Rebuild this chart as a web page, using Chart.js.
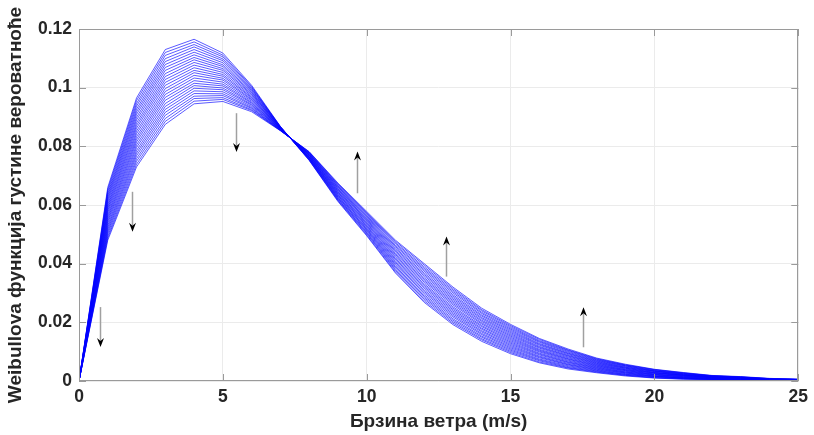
<!DOCTYPE html>
<html>
<head>
<meta charset="utf-8">
<script src="https://cdn.jsdelivr.net/npm/chart.js@4.4.1/dist/chart.umd.min.js"></script>
<style>
html,body{margin:0;padding:0;background:#fff;}
#wrap{width:814px;height:435px;position:relative;}
</style>
</head>
<body>
<div id="wrap"><canvas id="c" width="814" height="435"></canvas></div>
<script>
// wind speed (m/s) sample points
const windSpeed = [0,1,2,3,4,5,6,7,8,9,10,11,12,13,14,15,16,17,18,19,20,21,22,23,24,25];

// Weibull PDF family (most peaked first, flattest last)
const pdf01 = [0,0.066,0.0965,0.113,0.1165,0.1118,0.1008,0.0868,0.0752,0.0612,0.0495,0.0368,0.0268,0.0192,0.0135,0.0093,0.0062,0.0041,0.0028,0.0017,0.001,0.0006,0.0004,0.0002,0.0001,0.0001];
const pdf02 = [0,0.0653,0.0956,0.112,0.1156,0.1111,0.1004,0.0867,0.0753,0.0615,0.0498,0.0372,0.0273,0.0197,0.014,0.0097,0.0065,0.0044,0.003,0.0019,0.0011,0.0007,0.0005,0.0003,0.0001,0.0001];
const pdf03 = [0,0.0646,0.0946,0.111,0.1147,0.1105,0.1001,0.0867,0.0754,0.0617,0.0502,0.0377,0.0279,0.0202,0.0144,0.0101,0.0069,0.0046,0.0032,0.002,0.0012,0.0008,0.0005,0.0003,0.0002,0.0001];
const pdf04 = [0,0.0638,0.0937,0.1099,0.1139,0.1098,0.0997,0.0866,0.0756,0.062,0.0505,0.0381,0.0284,0.0207,0.0149,0.0105,0.0072,0.0049,0.0034,0.0022,0.0014,0.0009,0.0006,0.0004,0.0002,0.0002];
const pdf05 = [0,0.0631,0.0927,0.1089,0.113,0.1092,0.0994,0.0866,0.0757,0.0622,0.0508,0.0386,0.0289,0.0212,0.0153,0.0109,0.0075,0.0052,0.0036,0.0023,0.0015,0.001,0.0006,0.0004,0.0002,0.0002];
const pdf06 = [0,0.0624,0.0918,0.1079,0.1121,0.1085,0.099,0.0865,0.0758,0.0625,0.0512,0.039,0.0294,0.0218,0.0158,0.0113,0.0079,0.0055,0.0038,0.0025,0.0016,0.001,0.0007,0.0005,0.0003,0.0002];
const pdf07 = [0,0.0617,0.0909,0.1069,0.1112,0.1078,0.0986,0.0864,0.0759,0.0627,0.0515,0.0395,0.03,0.0223,0.0162,0.0117,0.0082,0.0057,0.004,0.0027,0.0017,0.0011,0.0008,0.0005,0.0003,0.0002];
const pdf08 = [0,0.061,0.0899,0.1059,0.1103,0.1072,0.0983,0.0864,0.076,0.063,0.0518,0.0399,0.0305,0.0228,0.0167,0.0121,0.0085,0.006,0.0042,0.0028,0.0018,0.0012,0.0008,0.0006,0.0003,0.0002];
const pdf09 = [0,0.0602,0.089,0.1048,0.1095,0.1065,0.0979,0.0863,0.0762,0.0632,0.0521,0.0404,0.031,0.0233,0.0171,0.0125,0.0089,0.0063,0.0044,0.003,0.002,0.0013,0.0009,0.0006,0.0003,0.0003];
const pdf10 = [0,0.0595,0.088,0.1038,0.1086,0.1059,0.0976,0.0863,0.0763,0.0635,0.0525,0.0408,0.0316,0.0238,0.0176,0.0129,0.0092,0.0065,0.0046,0.0031,0.0021,0.0014,0.0009,0.0007,0.0004,0.0003];
const pdf11 = [0,0.0588,0.0871,0.1028,0.1077,0.1052,0.0972,0.0862,0.0764,0.0637,0.0528,0.0413,0.0321,0.0243,0.018,0.0133,0.0095,0.0068,0.0048,0.0033,0.0022,0.0015,0.001,0.0007,0.0004,0.0003];
const pdf12 = [0,0.0581,0.0862,0.1018,0.1068,0.1045,0.0968,0.0861,0.0765,0.064,0.0531,0.0417,0.0326,0.0248,0.0185,0.0137,0.0099,0.0071,0.005,0.0035,0.0023,0.0016,0.0011,0.0008,0.0004,0.0003];
const pdf13 = [0,0.0574,0.0852,0.1008,0.1059,0.1039,0.0965,0.0861,0.0766,0.0642,0.0535,0.0422,0.0331,0.0253,0.0189,0.0141,0.0102,0.0074,0.0052,0.0036,0.0024,0.0017,0.0011,0.0008,0.0005,0.0003];
const pdf14 = [0,0.0566,0.0843,0.0997,0.1051,0.1032,0.0961,0.086,0.0768,0.0645,0.0538,0.0426,0.0337,0.0259,0.0194,0.0145,0.0105,0.0076,0.0054,0.0038,0.0026,0.0018,0.0012,0.0009,0.0005,0.0004];
const pdf15 = [0,0.0559,0.0833,0.0987,0.1042,0.1026,0.0958,0.086,0.0769,0.0647,0.0541,0.0431,0.0342,0.0264,0.0198,0.0149,0.0108,0.0079,0.0056,0.0039,0.0027,0.0019,0.0012,0.0009,0.0005,0.0004];
const pdf16 = [0,0.0552,0.0824,0.0977,0.1033,0.1019,0.0954,0.0859,0.077,0.065,0.0545,0.0435,0.0347,0.0269,0.0203,0.0153,0.0112,0.0082,0.0058,0.0041,0.0028,0.002,0.0013,0.001,0.0006,0.0004];
const pdf17 = [0,0.0545,0.0815,0.0967,0.1024,0.1012,0.095,0.0858,0.0771,0.0652,0.0548,0.044,0.0352,0.0274,0.0207,0.0157,0.0115,0.0085,0.006,0.0043,0.0029,0.002,0.0014,0.001,0.0006,0.0004];
const pdf18 = [0,0.0538,0.0805,0.0957,0.1015,0.1006,0.0947,0.0858,0.0772,0.0655,0.0551,0.0444,0.0358,0.0279,0.0212,0.0161,0.0118,0.0087,0.0062,0.0044,0.003,0.0021,0.0014,0.0011,0.0006,0.0004];
const pdf19 = [0,0.053,0.0796,0.0946,0.1007,0.0999,0.0943,0.0857,0.0774,0.0657,0.0554,0.0449,0.0363,0.0284,0.0216,0.0165,0.0122,0.009,0.0064,0.0046,0.0032,0.0022,0.0015,0.0011,0.0006,0.0005];
const pdf20 = [0,0.0523,0.0786,0.0936,0.0998,0.0993,0.094,0.0857,0.0775,0.066,0.0558,0.0453,0.0368,0.0289,0.0221,0.0169,0.0125,0.0093,0.0066,0.0047,0.0033,0.0023,0.0015,0.0012,0.0007,0.0005];
const pdf21 = [0,0.0516,0.0777,0.0926,0.0989,0.0986,0.0936,0.0856,0.0776,0.0662,0.0561,0.0458,0.0374,0.0294,0.0225,0.0173,0.0128,0.0095,0.0068,0.0049,0.0034,0.0024,0.0016,0.0012,0.0007,0.0005];
const pdf22 = [0,0.0509,0.0768,0.0916,0.098,0.0979,0.0932,0.0855,0.0777,0.0665,0.0564,0.0462,0.0379,0.03,0.023,0.0177,0.0132,0.0098,0.007,0.0051,0.0035,0.0025,0.0017,0.0013,0.0007,0.0005];
const pdf23 = [0,0.0502,0.0758,0.0906,0.0971,0.0973,0.0929,0.0855,0.0778,0.0667,0.0568,0.0467,0.0384,0.0305,0.0234,0.0181,0.0135,0.0101,0.0072,0.0052,0.0036,0.0026,0.0017,0.0013,0.0008,0.0005];
const pdf24 = [0,0.0494,0.0749,0.0895,0.0963,0.0966,0.0925,0.0854,0.078,0.067,0.0571,0.0471,0.0389,0.031,0.0239,0.0185,0.0138,0.0104,0.0074,0.0054,0.0038,0.0027,0.0018,0.0014,0.0008,0.0006];
const pdf25 = [0,0.0487,0.0739,0.0885,0.0954,0.096,0.0922,0.0854,0.0781,0.0672,0.0574,0.0476,0.0395,0.0315,0.0243,0.0189,0.0142,0.0106,0.0076,0.0055,0.0039,0.0028,0.0018,0.0014,0.0008,0.0006];
const pdf26 = [0,0.048,0.073,0.0875,0.0945,0.0953,0.0918,0.0853,0.0782,0.0675,0.0578,0.048,0.04,0.032,0.0248,0.0193,0.0145,0.0109,0.0078,0.0057,0.004,0.0029,0.0019,0.0015,0.0009,0.0006];

const pdfFamily = [pdf01,pdf02,pdf03,pdf04,pdf05,pdf06,pdf07,pdf08,pdf09,pdf10,pdf11,pdf12,pdf13,
                   pdf14,pdf15,pdf16,pdf17,pdf18,pdf19,pdf20,pdf21,pdf22,pdf23,pdf24,pdf25,pdf26];

// annotation arrows (data coordinates): x, start value, end (tip) value
const arrowX    = [0.73, 1.83, 5.47, 9.66, 12.75, 17.52];
const arrowFrom = [0.0252, 0.0645, 0.0913, 0.0640, 0.0356, 0.0115];
const arrowTo   = [0.0116, 0.0509, 0.0781, 0.0782, 0.0493, 0.0251];

const xTitle = 'Брзина ветра (m/s)';
const yTitle = 'Weibullova функција густине вероватноће';

const FONT = '"Liberation Sans", Arial, Helvetica, sans-serif';
const TXT = '#262626';
const AXC = '#9a9a9a';

const datasets = pdfFamily.map(function (vals) {
  return {
    data: windSpeed.map(function (x, i) { return {x: x, y: vals[i]}; }),
    borderColor: '#0000ff',
    borderWidth: 0.65,
    pointRadius: 0,
    tension: 0,
    fill: false
  };
});

const framePlugin = {
  id: 'frameAndArrows',
  afterDatasetsDraw(chart) {
    const ctx = chart.ctx;
    const a = chart.chartArea;
    const xs = chart.scales.x, ys = chart.scales.y;
    ctx.save();
    // frame
    ctx.strokeStyle = AXC;
    ctx.lineWidth = 1;
    ctx.strokeRect(Math.round(a.left) + 0.5, Math.round(a.top) + 0.5,
                   Math.round(a.right - a.left) - 1, Math.round(a.bottom - a.top) - 1);
    // inner ticks
    const tl = 7;
    ctx.beginPath();
    xs.ticks.forEach(function (t) {
      const px = Math.round(xs.getPixelForValue(t.value)) + 0.5;
      ctx.moveTo(px, a.bottom); ctx.lineTo(px, a.bottom - tl);
      ctx.moveTo(px, a.top); ctx.lineTo(px, a.top + tl);
    });
    ys.ticks.forEach(function (t) {
      const py = Math.round(ys.getPixelForValue(t.value)) + 0.5;
      ctx.moveTo(a.left, py); ctx.lineTo(a.left + tl, py);
      ctx.moveTo(a.right, py); ctx.lineTo(a.right - tl, py);
    });
    ctx.stroke();
    // arrows
    for (let i = 0; i < arrowX.length; i++) {
      const px = Math.round(xs.getPixelForValue(arrowX[i])) + 0.5;
      const y0 = ys.getPixelForValue(arrowFrom[i]);
      const y1 = ys.getPixelForValue(arrowTo[i]);
      const dir = y1 > y0 ? 1 : -1;
      const hl = 9, hw = 3.5;
      ctx.strokeStyle = '#a0a0a0';
      ctx.lineWidth = 1.5;
      ctx.beginPath();
      ctx.moveTo(px, y0);
      ctx.lineTo(px, y1 - dir * (hl - 3));
      ctx.stroke();
      ctx.fillStyle = '#000000';
      ctx.beginPath();
      ctx.moveTo(px, y1);
      ctx.lineTo(px - hw, y1 - dir * hl);
      ctx.lineTo(px, y1 - dir * (hl - 3));
      ctx.lineTo(px + hw, y1 - dir * hl);
      ctx.closePath();
      ctx.fill();
    }
    ctx.restore();
  }
};

new Chart(document.getElementById('c'), {
  type: 'line',
  data: { datasets: datasets },
  options: {
    responsive: false,
    animation: false,
    devicePixelRatio: 1,
    parsing: false,
    normalized: true,
    layout: { padding: { left: 0, right: 14, top: 29, bottom: 0 } },
    plugins: { legend: { display: false }, tooltip: { enabled: false } },
    scales: {
      x: {
        type: 'linear',
        min: 0, max: 25,
        afterFit: function (s) { s.height = 54; },
        ticks: { stepSize: 5, color: TXT, padding: 6, maxRotation: 0,
                 font: { family: FONT, size: 17.5, weight: 'bold' } },
        grid: { color: '#ebebeb', drawTicks: false },
        border: { display: false },
        title: { display: true, text: xTitle, color: TXT,
                 font: { family: FONT, size: 19, weight: 'bold' },
                 padding: { top: 0, bottom: 2 } }
      },
      y: {
        type: 'linear',
        min: 0, max: 0.12,
        afterFit: function (s) { s.width = 79; },
        ticks: { stepSize: 0.02, color: TXT, padding: 7,
                 font: { family: FONT, size: 17.5, weight: 'bold' },
                 callback: function (v) { return String(parseFloat(v.toFixed(2))); } },
        grid: { color: '#ebebeb', drawTicks: false },
        border: { display: false },
        title: { display: true, text: yTitle, color: TXT,
                 font: { family: FONT, size: 19, weight: 'bold' },
                 padding: { top: 4, bottom: 0 } }
      }
    }
  },
  plugins: [framePlugin]
});
</script>
</body>
</html>
